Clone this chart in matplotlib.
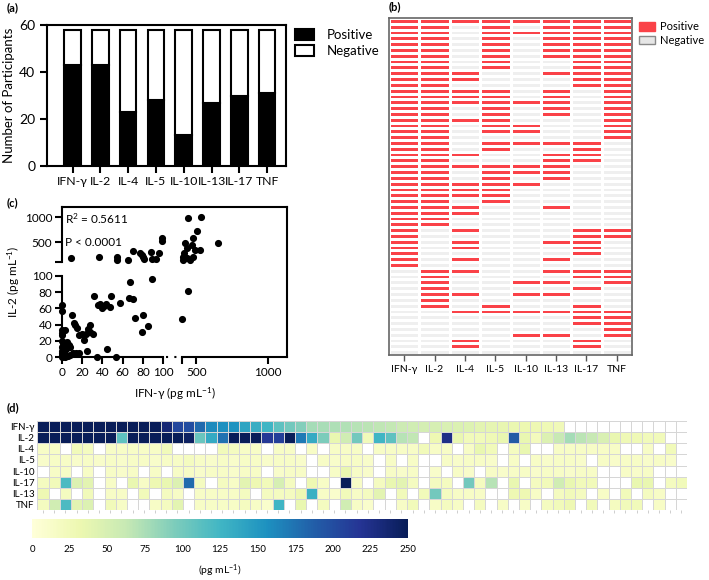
import matplotlib
matplotlib.use("Agg")
import matplotlib.pyplot as plt
import numpy as np
from matplotlib.colors import ListedColormap
from matplotlib.patches import Patch

plt.rcParams["font.family"] = ["Lato", "DejaVu Sans"]
plt.rcParams["mathtext.default"] = "regular"

nan = np.nan

# ---- (a) / (b) data ----
cytokines = ["IFN-γ", "IL-2", "IL-4", "IL-5", "IL-10", "IL-13", "IL-17", "TNF"]
n_participants = 58
positive = [43, 43, 23, 28, 13, 27, 30, 31]

# participant rows (top to bottom) that are positive, per cytokine
pos_ifng = list(range(0, 43))
pos_il2 = list(range(0, 36)) + [43, 44, 45, 46, 47, 48, 49]
pos_il4 = [0, 9, 10, 12, 13, 14, 17, 23, 25, 28, 29, 30, 32, 33, 36, 38, 39, 41, 43, 47, 50, 55, 56]
pos_il5 = list(range(0, 9)) + list(range(12, 20)) + [21, 22] + list(range(25, 32)) + [49, 50]
pos_il10 = [0, 2, 14, 18, 19, 21, 25, 26, 28, 45, 47, 50, 54]
pos_il13 = list(range(0, 7)) + [9, 12, 13, 14, 15, 16, 21, 23, 24, 25, 26, 27, 32,
                                38, 41, 43, 45, 47, 50, 54]
pos_il17 = list(range(0, 12)) + [21, 22, 23, 24, 36, 37, 38, 39, 40, 43, 44, 46,
                                 49, 50, 51, 52, 55, 56]
pos_tnf = list(range(0, 21)) + [36, 37, 43, 44, 45, 50, 51, 52, 53, 54]
pos_rows = [pos_ifng, pos_il2, pos_il4, pos_il5, pos_il10, pos_il13, pos_il17, pos_tnf]

# ---- (c) data ----
ifng_c = [0, 0, 0, 0, 0, 0, 0, 0, 0, 0, 0, 1, 2, 3, 3, 4, 5, 6, 7, 8, 5, 8,
          10, 12, 13, 11, 14, 17, 15, 17, 20, 22, 24, 25, 26, 28, 28, 31, 35, 45, 53,
          32, 36, 38, 40, 42, 44, 49, 48, 57, 67, 66, 70, 72, 80, 79, 85, 89,
          402, 445,
          9, 37, 54, 54, 65, 70, 77, 79, 80, 81, 88, 89, 93, 96, 99, 99,
          444, 531, 507, 421, 433, 468, 479, 491, 526, 405, 416, 437, 456, 475, 409, 654]
il2_c = [64, 57, 33, 30, 27, 20, 12, 8, 5, 2, 0, 15, 5, 33, 0, 10, 13, 1, 15, 3, 18, 12,
         52, 42, 40, 5, 5, 5, 36, 27, 29, 21, 28, 7, 35, 40, 31, 29, 0, 10, 0,
         75, 64, 66, 60, 63, 65, 75, 62, 67, 92, 73, 71, 48, 52, 31, 38, 96,
         47, 82,
         184, 204, 210, 140, 150, 330, 284, 250, 216, 170, 304, 170, 170, 284, 584, 536,
         984, 1010, 736, 484, 384, 450, 584, 350, 350, 216, 284, 184, 150, 216, 150, 484]

# ---- (d) data (pg/mL, nan = not detected) ----
rows_d = ["IFN-γ", "IL-2", "IL-4", "IL-5", "IL-10", "IL-17", "IL-13", "TNF"]
d_ifng = [260, 255, 260, 258, 260, 255, 260, 258, 255, 260, 250,
          235, 205, 200, 180, 160, 157, 155, 140, 132, 125, 110, 100, 92, 78, 76, 74, 72,
          70, 68, 66, 64, 58, 55, 52, 50, 48, 46, 44, 40, 38, 36, 34, 32, 30, 28, 26,
          nan, nan, nan, nan, nan, nan, nan, nan, nan, nan, nan]
d_il2 = [260, 255, 260, 250, 260, 255, 260, 110, 260, 255, 260, 250, 255, 245,
         105, 135, 175, 250, 255,
         250, 215, 210, 250, 170, 135, 95, 35, 55, 100, 25, 125, 110, 70, 65, nan, 30, 225, 35, 25,
         25, 28, 35, 190, 35, 22, 45, 62, 78, 68, 62, 48, 35, 28, 28, 25, 25, nan, nan]
d_il4 = [15, 15, nan, 25, 20, nan, 15, 15, 15, 15, 15, 25, nan, nan, nan, nan, 25, 20, 15,
         15, nan, 15, 15, nan, 15, nan, 15, 15, 15, nan, 15, 15, 15, 15, 25, 15, 15, nan, 15,
         35, 25, nan, 20, 35, nan, nan, 15, 15, 15, 15, 15, 15, nan, nan, 15, nan, 25, nan]
d_il5 = [12, 15, 15, 12, 15, 12, 15, 12, 15, 15, 12, 15, 15, 20, 15, 12, 15, 12, 15,
         15, 12, 15, 15, 12, nan, 15, 12, 15, 15, 12, nan, 15, nan, 15, nan, nan, 15, 12, 15,
         15, 12, nan, 15, nan, 15, 12, 15, 15, 12, nan, 15, 12, 15, 15, 12, 15, 12, nan]
d_il10 = [nan, 15, 15, nan, 15, nan, 15, 12, 15, nan, 15, nan, 15, 15, 12, 15, 15, 12, 15,
          15, nan, 12, 15, 15, nan, nan, 15, 35, 15, 12, nan, 15, 12, 15, nan, 12, nan, 15, 12,
          nan, 15, 12, 15, 15, 12, 15, 15, 12, 15, 15, nan, nan, 15, 12, 15, nan, nan, nan]
d_il17 = [20, 25, 120, 45, 40, nan, 15, nan, 35, 15, 30, 35, 45, 180, 20, nan, 20, 15, 40,
          30, 25, 50, 20, nan, 30, 15, nan, 250, 15, nan, 20, 35, 40, 20, nan, 20, 20, nan, 100,
          20, 70, nan, 35, nan, 20, 25, 55, 35, 25, 25, nan, nan, nan, 35, 35, nan, 20, 25]
d_il13 = [30, nan, 20, nan, 25, nan, 15, 15, nan, 25, nan, 20, 15, nan, 15, 15, 15, 15, 20,
          nan, 20, 20, 20, 30, 130, 15, 10, 25, 15, 20, 40, nan, 25, nan, 25, 100, 20, 15, 15,
          15, nan, nan, 30, 30, 15, nan, 20, 25, 20, nan, 15, nan, 25, nan, 20, 15, nan, nan]
d_tnf = [20, 55, 120, 40, 45, nan, 25, 15, nan, nan, 15, 20, 40, nan, 15, 15, 15, 15, 20,
         15, 10, 125, nan, 35, nan, 20, nan, 55, 15, 10, nan, nan, 15, 25, nan, 15, 20, 15, nan,
         20, nan, 15, nan, 15, nan, 20, 25, 30, nan, 25, nan, 20, 25, 25, nan, 15, nan, nan]
cbar_ticks = [0, 25, 50, 75, 100, 125, 150, 175, 200, 225, 250]

W, H = 709, 580
fig = plt.figure(figsize=(W / 100, H / 100), dpi=100)


def box(l, t, r, b):
    return [l / W, 1 - b / H, (r - l) / W, (b - t) / H]


# ---------------- (a) ----------------
ax_a = fig.add_axes(box(47, 25, 286, 166))
x = np.arange(len(cytokines))
negative = [n_participants - p for p in positive]
ax_a.bar(x, positive, width=0.6, color="black", edgecolor="black", linewidth=1.5)
ax_a.bar(x, negative, bottom=positive, width=0.6, color="white",
         edgecolor="black", linewidth=1.5)
ax_a.set_xlim(-0.92, 7.68)
ax_a.set_ylim(0, 60)
ax_a.set_yticks([0, 20, 40, 60])
ax_a.set_xticks(x, cytokines)
ax_a.tick_params(axis="y", labelsize=10, width=1.5, length=5)
ax_a.tick_params(axis="x", labelsize=8.8, width=1.5, length=5, pad=2)
for s in ax_a.spines.values():
    s.set_linewidth(1.5)
ax_a.set_ylabel("Number of Participants", fontsize=9.5, labelpad=3)
ax_a.legend([Patch(facecolor="black", edgecolor="black", lw=1.5),
             Patch(facecolor="white", edgecolor="black", lw=1.5)],
            ["Positive", "Negative"], loc="upper left", bbox_to_anchor=(1.0, 1.04),
            frameon=False, fontsize=9.5, handlelength=1.4, handleheight=0.9,
            handletextpad=1.0, labelspacing=0.3, borderaxespad=0.3)

# ---------------- (b) ----------------
ax_b = fig.add_axes(box(389, 18, 632, 355))
mat = np.zeros((n_participants, len(cytokines)))
for j, rows in enumerate(pos_rows):
    mat[rows, j] = 1
ax_b.pcolormesh(mat, cmap=ListedColormap(["#efefef", "#fa4248"]),
                edgecolors="white", linewidth=1.0)
ax_b.set_ylim(n_participants, 0)
ax_b.set_xlim(0, len(cytokines))
ax_b.set_yticks([])
ax_b.set_xticks(x + 0.5, cytokines)
ax_b.tick_params(axis="x", labelsize=7.5, length=4, width=1, color="#555", pad=3)
for s in ax_b.spines.values():
    s.set_color("#666")
    s.set_linewidth(1.2)
ax_b.legend([Patch(facecolor="#fa4248", edgecolor="#fa4248"),
             Patch(facecolor="#e6e6e6", edgecolor="#888")],
            ["Positive", "Negative"], loc="upper left", bbox_to_anchor=(1.0, 1.01),
            frameon=False, fontsize=8, handlelength=1.5, handleheight=0.8,
            handletextpad=0.4, labelspacing=0.25, borderaxespad=0.2)

# ---------------- (c) ----------------
def fwd_x(v):
    v = np.asarray(v, dtype=float)
    return np.where(v <= 100, v,
                    np.where(v >= 400, 118.8 + (v - 400) * 0.1414,
                             100 + (v - 100) * 18.8 / 300))


def inv_x(u):
    u = np.asarray(u, dtype=float)
    return np.where(u <= 100, u,
                    np.where(u >= 118.8, 400 + (u - 118.8) / 0.1414,
                             100 + (u - 100) * 300 / 18.8))


def fwd_y(v):
    v = np.asarray(v, dtype=float)
    return np.where(v <= 100, v,
                    np.where(v >= 110, 117.3 + (v - 110) * 0.0617,
                             100 + (v - 100) * 1.73))


def inv_y(u):
    u = np.asarray(u, dtype=float)
    return np.where(u <= 100, u,
                    np.where(u >= 117.3, 110 + (u - 117.3) / 0.0617,
                             100 + (u - 100) / 1.73))


ax_c = fig.add_axes(box(62, 207, 287, 357))
ax_c.set_xscale("function", functions=(fwd_x, inv_x))
ax_c.set_yscale("function", functions=(fwd_y, inv_y))
ax_c.set_xlim(0, 1135)
ax_c.set_ylim(0, 1210)
ax_c.scatter(ifng_c, il2_c, s=17, color="black", clip_on=False, zorder=3)
for s in ax_c.spines.values():
    s.set_linewidth(1.5)
ax_c.spines["left"].set_bounds(0, 100)
ax_c.spines["bottom"].set_bounds(0, 104)
ax_c.plot([0, 0], [110, 1210], color="black", lw=1.5, clip_on=False)
ax_c.plot([400, 1135], [0, 0], color="black", lw=1.5, clip_on=False)
ax_c.plot([140, 330], [0, 0], color="black", lw=1.5, ls=(0, (1, 3)), clip_on=False)
ax_c.set_xticks([0, 20, 40, 60, 80, 100, 400, 500, 1000],
                ["0", "20", "40", "60", "80", "100", "", "500", "1000"])
ax_c.set_yticks([0, 20, 40, 60, 80, 100, 110, 500, 1000],
                ["0", "20", "40", "60", "80", "100", "", "500", "1000"])
ax_c.minorticks_off()
ax_c.tick_params(labelsize=8.5, width=1.5, length=5, pad=2)
ax_c.set_xlabel("IFN-γ (pg mL$^{-1}$)", fontsize=8.5, labelpad=6)
ax_c.set_ylabel("IL-2 (pg mL$^{-1}$)", fontsize=8.5, labelpad=2)
ax_c.text(0.015, 0.92, "R$^2$ = 0.5611", transform=ax_c.transAxes, fontsize=8.5, va="center")
ax_c.text(0.015, 0.76, "P < 0.0001", transform=ax_c.transAxes, fontsize=8.5, va="center")

# ---------------- (d) ----------------
ax_d = fig.add_axes(box(37.3, 421, 687, 510))
data_d = np.ma.masked_invalid(np.array([d_ifng, d_il2, d_il4, d_il5, d_il10,
                                        d_il17, d_il13, d_tnf], dtype=float))
cmap_d = plt.get_cmap("YlGnBu").copy()
cmap_d.set_bad("white")
mesh = ax_d.pcolormesh(data_d, cmap=cmap_d, vmin=0, vmax=250,
                       edgecolors="#d6d6d6", linewidth=0.5)
ax_d.set_ylim(len(rows_d), 0)
ax_d.set_xlim(0, data_d.shape[1])
ax_d.set_yticks(np.arange(len(rows_d)) + 0.5, rows_d)
ax_d.set_xticks(np.arange(data_d.shape[1]) + 0.5, [])
ax_d.tick_params(axis="y", length=0, labelsize=7, pad=2)
ax_d.tick_params(axis="x", length=2, width=0.5, color="#bbbbbb")
for s in ax_d.spines.values():
    s.set_visible(False)

cax = fig.add_axes(box(32, 519, 408, 538))
cb = fig.colorbar(mesh, cax=cax, orientation="horizontal", ticks=cbar_ticks)
cb.outline.set_visible(False)
cax.tick_params(length=0, labelsize=7, pad=5)
cb.set_label("(pg mL$^{-1}$)", fontsize=7.5, labelpad=6)

# panel letters
for lab, px, py in [("(a)", 7, 8), ("(b)", 389, 7), ("(c)", 7, 203), ("(d)", 7, 408)]:
    fig.text(px / W, 1 - py / H, lab, fontsize=8, fontweight="bold", va="center")

fig.savefig("out.png", dpi=100)
